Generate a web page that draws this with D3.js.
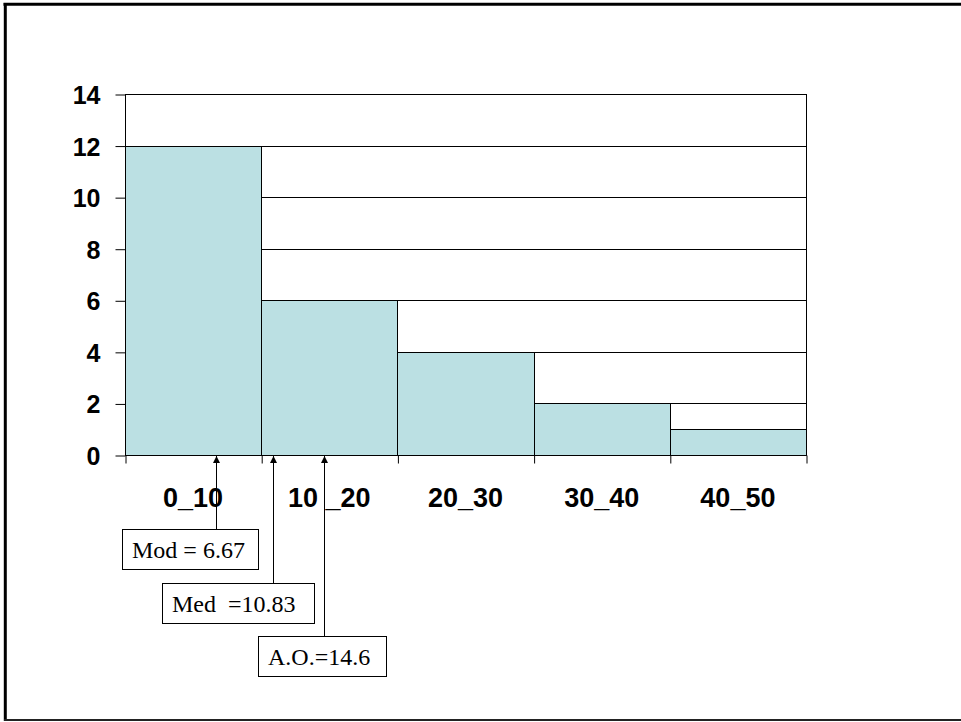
<!DOCTYPE html>
<html>
<head>
<meta charset="utf-8">
<script src="https://cdn.jsdelivr.net/npm/d3@7"></script>
<style>
  html, body { margin: 0; padding: 0; background: #fff; }
  svg { display: block; }
</style>
</head>
<body>
<svg id="chart" width="961" height="722"></svg>
<script>
// Frequency distribution: class intervals and their counts
const categories = ["0_10", "10 _20", "20_30", "30_40", "40_50"];
const binEdges = [0, 10, 20, 30, 40, 50];
const frequencies = [12, 6, 4, 2, 1];
const yTicks = [0, 2, 4, 6, 8, 10, 12, 14];

// Location statistics marked under the axis
const statLabels = ["Mod = 6.67", "Med  =10.83", "A.O.=14.6"];
const statValues = [6.67, 10.83, 14.6];

const svg = d3.select("#chart");
const W = 961, H = 722;

// Slide frame
const frame = svg.append("g").attr("fill", "none").attr("stroke", "#000");
frame.append("line").attr("x1", 3.5).attr("x2", W + 2).attr("y1", 4.3).attr("y2", 4.3).attr("stroke-width", 3);
frame.append("line").attr("x1", 5.3).attr("x2", 5.3).attr("y1", 3).attr("y2", 721).attr("stroke-width", 3);
frame.append("line").attr("x1", 4).attr("x2", W + 2).attr("y1", 720).attr("y2", 720).attr("stroke-width", 2).attr("stroke", "#222");

const plot = { left: 125, right: 806, top: 94, bottom: 455 };

const x = d3.scaleLinear().domain([binEdges[0], binEdges[binEdges.length - 1]]).range([plot.left, plot.right]);
const y = d3.scaleLinear().domain([0, 14]).range([plot.bottom, plot.top]);

// Horizontal grid lines
svg.append("g")
  .selectAll("line")
  .data(yTicks.filter(d => d > 0))
  .join("line")
  .attr("x1", plot.left).attr("x2", plot.right)
  .attr("y1", d => Math.round(y(d)) + 0.5).attr("y2", d => Math.round(y(d)) + 0.5)
  .attr("stroke", "#000").attr("stroke-width", 1);

// Right border of the plot area
svg.append("line")
  .attr("x1", x(50) + 0.5).attr("x2", x(50) + 0.5)
  .attr("y1", y(14)).attr("y2", y(0))
  .attr("stroke", "#000");

// Histogram bars
const bins = frequencies.map((f, i) => ({ x0: binEdges[i], x1: binEdges[i + 1], f }));
svg.append("g")
  .selectAll("rect")
  .data(bins)
  .join("rect")
  .attr("x", d => Math.round(x(d.x0)) + 0.5)
  .attr("y", d => Math.round(y(d.f)) + 0.5)
  .attr("width", d => Math.round(x(d.x1)) - Math.round(x(d.x0)))
  .attr("height", d => Math.round(y(0)) - Math.round(y(d.f)))
  .attr("fill", "#BBE0E3")
  .attr("stroke", "#000")
  .attr("stroke-width", 1);

// Y axis
const yAxis = svg.append("g")
  .attr("transform", `translate(${plot.left + 0.5},0.5)`)
  .call(d3.axisLeft(y).tickValues(yTicks).tickSize(10).tickPadding(15).tickFormat(d3.format("d")));
yAxis.select(".domain").attr("stroke", "#000").attr("d", `M0,${y(14)}V${y(0)}`);
yAxis.selectAll(".tick line").attr("stroke", "#000");
yAxis.selectAll(".tick text")
  .attr("fill", "#000")
  .style("font-family", "'Liberation Sans', Arial, sans-serif")
  .style("font-weight", "bold")
  .style("font-size", "25px")
  .attr("dy", "0.36em");

// X axis: ticks at class boundaries
const xAxis = svg.append("g")
  .attr("transform", `translate(0.5,${plot.bottom + 0.5})`)
  .call(d3.axisBottom(x).tickValues(binEdges).tickSize(8).tickFormat(""));
xAxis.select(".domain").attr("stroke", "#000").attr("d", `M${x(0)},0H${x(50)}`);
xAxis.selectAll(".tick line").attr("stroke", "#000");

// Class labels centred under each bar
svg.append("g")
  .selectAll("text")
  .data(bins)
  .join("text")
  .attr("x", (d, i) => x((d.x0 + d.x1) / 2))
  .attr("y", 507)
  .attr("text-anchor", "middle")
  .style("font-family", "'Liberation Sans', Arial, sans-serif")
  .style("font-weight", "bold")
  .style("font-size", "27px")
  .text((d, i) => categories[i]);

// Callout boxes with arrows pointing at each statistic on the axis
const boxLayout = [
  { left: 122, top: 529, width: 136, height: 40 },
  { left: 162, top: 583, width: 152, height: 40 },
  { left: 258, top: 636, width: 128, height: 40 }
];

svg.append("defs").append("marker")
  .attr("id", "arrowhead")
  .attr("viewBox", "0 0 10 10")
  .attr("refX", 10).attr("refY", 5)
  .attr("markerWidth", 7).attr("markerHeight", 8)
  .attr("markerUnits", "userSpaceOnUse")
  .attr("orient", "auto")
  .append("path")
  .attr("d", "M0,0L10,5L0,10Z")
  .attr("fill", "#000");

const callouts = svg.append("g");
statValues.forEach((v, i) => {
  const b = boxLayout[i];
  const ax = Math.round(x(v)) + 0.5;
  callouts.append("line")
    .attr("x1", ax).attr("x2", ax)
    .attr("y1", b.top).attr("y2", y(0) + 1)
    .attr("stroke", "#000").attr("stroke-width", 1)
    .attr("marker-end", "url(#arrowhead)");
  callouts.append("rect")
    .attr("x", b.left + 0.5).attr("y", b.top + 0.5)
    .attr("width", b.width).attr("height", b.height)
    .attr("fill", "#fff").attr("stroke", "#000").attr("stroke-width", 1);
  callouts.append("text")
    .attr("x", b.left + 10)
    .attr("y", b.top + 29)
    .style("font-family", "'Liberation Serif', 'Times New Roman', serif")
    .style("font-size", "24px")
    .style("white-space", "pre")
    .attr("xml:space", "preserve")
    .text(statLabels[i]);
});
</script>
</body>
</html>
